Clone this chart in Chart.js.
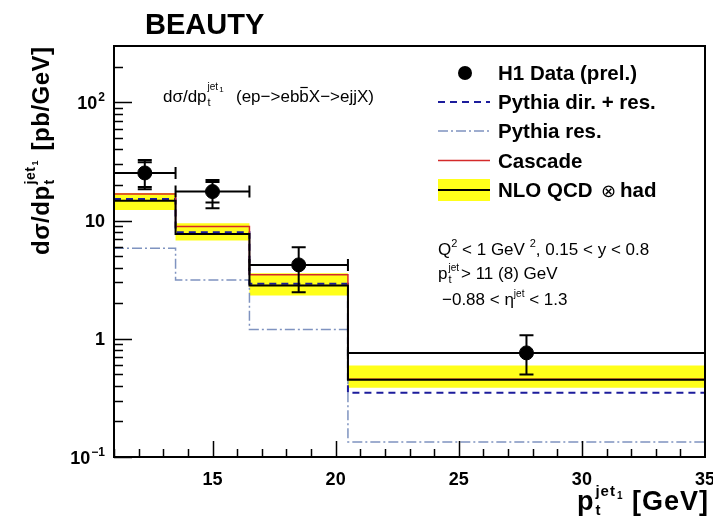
<!DOCTYPE html>
<html>
<head>
<meta charset="utf-8">
<script src="https://cdn.jsdelivr.net/npm/chart.js@4/dist/chart.umd.min.js"></script>
<style>
  html, body { margin: 0; padding: 0; background: #fff; overflow: hidden; }
  #wrap { width: 713px; height: 521px; position: relative; }
</style>
</head>
<body>
<div id="wrap"><canvas id="c" width="713" height="521"></canvas></div>
<script>
// Bin edges and centres in leading-jet pt [GeV]
const binEdges   = [11, 13.5, 16.5, 20.5, 35];
const binCenters = [12.25, 15, 18.5, 27.75];

// H1 measurement with total and statistical uncertainty bounds [pb/GeV]
const h1Data   = [25.3, 17.6, 4.22, 0.76];
const h1ErrLo  = [18.4, 12.7, 2.48, 0.50];
const h1ErrHi  = [32.6, 22.1, 5.94, 1.07];
const h1StatLo = [19.2, 14.2, 2.48, 0.50];
const h1StatHi = [31.2, 21.2, 5.94, 1.07];

// Predictions per bin [pb/GeV]
const pythiaDirRes = [15.2, 7.96, 2.92, 0.35];
const pythiaRes    = [5.83, 3.15, 1.20, 0.134];
const cascade      = [16.8, 8.9, 3.48, 0.455];
const nloQcd       = [14.7, 7.7, 2.82, 0.45];
const nloBandLo    = [12.3, 6.8, 2.32, 0.385];
const nloBandHi    = [17.1, 9.5, 3.59, 0.594];

// Axis ticks
const xMajorTicks  = [15, 20, 25, 30, 35];
const xTickLabels  = ['15', '20', '25', '30', '35'];
const yMajorTicks  = [0.1, 1, 10, 100];
const yTickMantissa = ['10', '1', '10', '10'];
const yTickExponent = ['\u22121', '', '', '2'];

const FONT = '"Liberation Sans", Arial, Helvetica, "DejaVu Sans", sans-serif';

// histogram outline: one point per bin edge, last bin value repeated at the upper edge
const steps = vals => binEdges.map((x, i) => ({ x, y: vals[Math.min(i, vals.length - 1)] }));

function histLine(vals, color, width, dash) {
  return {
    type: 'line', data: steps(vals), stepped: true,
    borderColor: color, borderWidth: width, borderDash: dash || [],
    pointRadius: 0, fill: false, tension: 0
  };
}

const decor = {
  id: 'decor',
  afterDatasetsDraw(chart) {
    const ctx = chart.ctx, xs = chart.scales.x, ys = chart.scales.y;
    ctx.save();
    ctx.strokeStyle = '#000';
    ctx.lineWidth = 2;
    for (let i = 0; i < h1Data.length; i++) {
      const y = ys.getPixelForValue(h1Data[i]);
      const x0 = xs.getPixelForValue(binEdges[i]);
      const x1 = xs.getPixelForValue(binEdges[i + 1]);
      const xc = xs.getPixelForValue(binCenters[i]);
      ctx.beginPath();
      ctx.moveTo(x0, y); ctx.lineTo(x1, y);
      ctx.moveTo(x0, y - 6); ctx.lineTo(x0, y + 6);
      ctx.moveTo(x1, y - 6); ctx.lineTo(x1, y + 6);
      const yl = ys.getPixelForValue(h1ErrLo[i]);
      const yh = ys.getPixelForValue(h1ErrHi[i]);
      ctx.moveTo(xc, yl); ctx.lineTo(xc, yh);
      [yl, yh, ys.getPixelForValue(h1StatLo[i]), ys.getPixelForValue(h1StatHi[i])].forEach(v => {
        ctx.moveTo(xc - 7, v); ctx.lineTo(xc + 7, v);
      });
      ctx.stroke();
    }
    ctx.restore();
  },
  afterDraw(chart) {
    const ctx = chart.ctx, xs = chart.scales.x, ys = chart.scales.y, a = chart.chartArea;
    ctx.save();
    // frame
    ctx.strokeStyle = '#000';
    ctx.lineWidth = 2;
    ctx.strokeRect(a.left, a.top, a.right - a.left, a.bottom - a.top);

    // y ticks (inside the frame)
    ctx.lineWidth = 1.5;
    ctx.beginPath();
    yMajorTicks.forEach(d => {
      const y = Math.round(ys.getPixelForValue(d)) + 0.5;
      ctx.moveTo(a.left, y); ctx.lineTo(a.left + 18, y);
      for (let m = 2; m <= 9; m++) {
        const v = m * d;
        if (v >= ys.max) continue;
        const ym = Math.round(ys.getPixelForValue(v)) + 0.5;
        ctx.moveTo(a.left, ym); ctx.lineTo(a.left + 9, ym);
      }
    });
    // x ticks
    for (let v = Math.ceil(xs.min); v < xs.max; v++) {
      const x = Math.round(xs.getPixelForValue(v)) + 0.5;
      const len = xMajorTicks.includes(v) ? 16 : 8;
      ctx.moveTo(x, a.bottom); ctx.lineTo(x, a.bottom - len);
    }
    ctx.stroke();

    ctx.fillStyle = '#000';
    ctx.textBaseline = 'alphabetic';

    // y tick labels
    yMajorTicks.forEach((d, i) => {
      const y = ys.getPixelForValue(d) + 6.5;
      ctx.font = 'bold 18px ' + FONT;
      const wm = ctx.measureText(yTickMantissa[i]).width;
      ctx.font = 'bold 12px ' + FONT;
      const we = yTickExponent[i] ? ctx.measureText(yTickExponent[i]).width + 1 : 0;
      const x0 = 105 - wm - we;
      ctx.font = 'bold 18px ' + FONT;
      ctx.textAlign = 'left';
      ctx.fillText(yTickMantissa[i], x0, y);
      if (yTickExponent[i]) {
        ctx.font = 'bold 12px ' + FONT;
        ctx.fillText(yTickExponent[i], x0 + wm + 1, y - 8);
      }
    });

    // x tick labels
    ctx.font = 'bold 18px ' + FONT;
    ctx.textAlign = 'center';
    xMajorTicks.forEach((v, i) => ctx.fillText(xTickLabels[i], xs.getPixelForValue(v), 485));
    ctx.textAlign = 'left';

    // title
    ctx.font = 'bold 29px ' + FONT;
    ctx.fillText('BEAUTY', 145, 34);

    // x axis title
    {
      const big = 'bold 27px ' + FONT;
      ctx.letterSpacing = '1px';
      ctx.font = big; const wp = ctx.measureText('p').width;
      ctx.font = 'bold 15px ' + FONT; const wt = ctx.measureText('t').width;
      ctx.font = 'bold 15px ' + FONT; const wj = ctx.measureText('jet').width;
      ctx.font = 'bold 10px ' + FONT; const w1 = ctx.measureText('1').width;
      ctx.font = big; const wg = ctx.measureText(' [GeV]').width;
      const total = wp + 1 + Math.max(wt, wj + w1 + 1) + wg;
      let x = 709 - total, y = 510;
      ctx.font = big; ctx.fillText('p', x, y); x += wp + 1;
      ctx.font = 'bold 15px ' + FONT; ctx.fillText('t', x, y + 5);
      ctx.font = 'bold 15px ' + FONT; ctx.fillText('jet', x, y - 14);
      ctx.font = 'bold 10px ' + FONT; ctx.fillText('1', x + wj + 1, y - 11);
      x += Math.max(wt, wj + w1 + 1);
      ctx.font = big; ctx.fillText(' [GeV]', x, y);
      ctx.letterSpacing = '0px';
    }

    // y axis title (rotated)
    {
      ctx.save();
      ctx.translate(49, 255);
      ctx.rotate(-Math.PI / 2);
      ctx.letterSpacing = '0.5px';
      let x = 0;
      ctx.font = 'bold 24px ' + FONT; ctx.fillText('d\u03c3/dp', x, 0);
      x += ctx.measureText('d\u03c3/dp').width + 1;
      ctx.font = 'bold 14px ' + FONT; ctx.fillText('t', x, 5);
      ctx.font = 'bold 14px ' + FONT; ctx.fillText('jet', x, -14);
      const wj = ctx.measureText('jet').width;
      ctx.font = 'bold 9px ' + FONT; ctx.fillText('1', x + wj + 1, -11);
      x += wj + 9;
      ctx.font = 'bold 24px ' + FONT; ctx.fillText(' [pb/GeV]', x, 0);
      ctx.letterSpacing = '0px';
      ctx.restore();
    }

    // process label inside the frame
    {
      let x = 163, y = 102;
      ctx.font = '17px ' + FONT; ctx.fillText('d\u03c3/dp', x, y);
      x += ctx.measureText('d\u03c3/dp').width + 1;
      ctx.font = '11px ' + FONT; ctx.fillText('t', x, y + 4);
      ctx.font = '10px ' + FONT; ctx.fillText('jet', x, y - 12);
      const wj = ctx.measureText('jet').width;
      ctx.font = '8px ' + FONT; ctx.fillText('1', x + wj + 1, y - 10);
      x = 236;
      ctx.font = '17px ' + FONT;
      const s1 = '(ep\u2212>eb';
      ctx.fillText(s1, x, y); x += ctx.measureText(s1).width;
      const wb = ctx.measureText('b').width;
      ctx.fillText('b', x, y);
      ctx.lineWidth = 1.2;
      ctx.beginPath(); ctx.moveTo(x + 1, y - 14.5); ctx.lineTo(x + wb - 1, y - 14.5); ctx.stroke();
      x += wb;
      ctx.fillText('X\u2212>ejjX)', x, y);
    }

    // legend
    {
      const rows = [73, 102, 131, 160.5, 190];
      const sx0 = 438, sx1 = 490, tx = 498;
      // H1 data marker
      ctx.beginPath(); ctx.arc(465, rows[0], 7, 0, Math.PI * 2); ctx.fill();
      // Pythia dir.+res.
      ctx.strokeStyle = '#1c1c9c'; ctx.lineWidth = 2; ctx.setLineDash([7, 5]);
      ctx.beginPath(); ctx.moveTo(sx0, rows[1]); ctx.lineTo(sx1, rows[1]); ctx.stroke();
      // Pythia res.
      ctx.strokeStyle = '#7f93c0'; ctx.lineWidth = 1.5; ctx.setLineDash([10, 3, 2, 3]);
      ctx.beginPath(); ctx.moveTo(sx0, rows[2]); ctx.lineTo(sx1, rows[2]); ctx.stroke();
      ctx.setLineDash([]);
      // Cascade
      ctx.strokeStyle = '#d42a2a'; ctx.lineWidth = 1.5;
      ctx.beginPath(); ctx.moveTo(sx0, rows[3]); ctx.lineTo(sx1, rows[3]); ctx.stroke();
      // NLO band + central line
      ctx.fillStyle = '#ffff1a'; ctx.fillRect(sx0, rows[4] - 11, sx1 - sx0, 22);
      ctx.strokeStyle = '#000'; ctx.lineWidth = 2;
      ctx.beginPath(); ctx.moveTo(sx0, rows[4]); ctx.lineTo(sx1, rows[4]); ctx.stroke();

      ctx.fillStyle = '#000';
      ctx.font = 'bold 20.5px ' + FONT;
      ctx.fillText('H1 Data (prel.)', tx, rows[0] + 7);
      ctx.fillText('Pythia dir. + res.', tx, rows[1] + 7);
      ctx.fillText('Pythia res.', tx, rows[2] + 7);
      ctx.fillText('Cascade', tx, rows[3] + 7);
      ctx.fillText('NLO QCD', tx, rows[4] + 7);
      ctx.font = '18px "DejaVu Sans", ' + FONT;
      ctx.fillText('\u2297', 601, rows[4] + 7);
      ctx.font = 'bold 20.5px ' + FONT;
      ctx.fillText('had', 620, rows[4] + 7);
    }

    // kinematic range
    {
      const f = '17px ' + FONT, fs = '11px ' + FONT;
      let x = 438, y = 255;
      const put = (t, font, dy) => { ctx.font = font; ctx.fillText(t, x, y + (dy || 0)); x += ctx.measureText(t).width; };
      put('Q', f); put('2', fs, -8); put(' < 1 GeV ', f); put('2', fs, -8); put(', 0.15 < y < 0.8', f);
      x = 438; y = 279;
      put('p', f);
      ctx.font = fs; ctx.fillText('t', x + 1, y + 4);
      ctx.font = '10px ' + FONT; ctx.fillText('jet', x + 1, y - 8);
      x += ctx.measureText('jet').width + 3;
      put('> 11 (8) GeV', f);
      x = 442; y = 305;
      put('\u22120.88 < \u03b7', f); put('jet', '10px ' + FONT, -8); put(' < 1.3', f);
    }
    ctx.restore();
  }
};

new Chart(document.getElementById('c'), {
  type: 'line',
  data: {
    datasets: [
      { type: 'scatter', data: binCenters.map((x, i) => ({ x, y: h1Data[i] })),
        pointRadius: 7, pointBackgroundColor: '#000', pointBorderColor: '#000', showLine: false },
      histLine(nloQcd, '#000', 2),
      histLine(cascade, '#d42a2a', 1.5),
      histLine(pythiaDirRes, '#1c1c9c', 2, [7, 5]),
      histLine(pythiaRes, '#7f93c0', 1.5, [10, 3, 2, 3]),
      { type: 'line', data: steps(nloBandHi), stepped: true, borderWidth: 0, pointRadius: 0,
        backgroundColor: '#ffff1a', fill: '+1' },
      { type: 'line', data: steps(nloBandLo), stepped: true, borderWidth: 0, pointRadius: 0, fill: false }
    ]
  },
  options: {
    responsive: false,
    animation: false,
    devicePixelRatio: 1,
    layout: { padding: { left: 114, top: 46, right: 8, bottom: 64 } },
    scales: {
      x: { type: 'linear', min: 11, max: 35, display: false },
      y: { type: 'logarithmic', min: 0.1, max: 300, display: false }
    },
    plugins: {
      legend: { display: false },
      tooltip: { enabled: false },
      filler: { drawTime: 'beforeDatasetsDraw' }
    }
  },
  plugins: [decor]
});
</script>
</body>
</html>
